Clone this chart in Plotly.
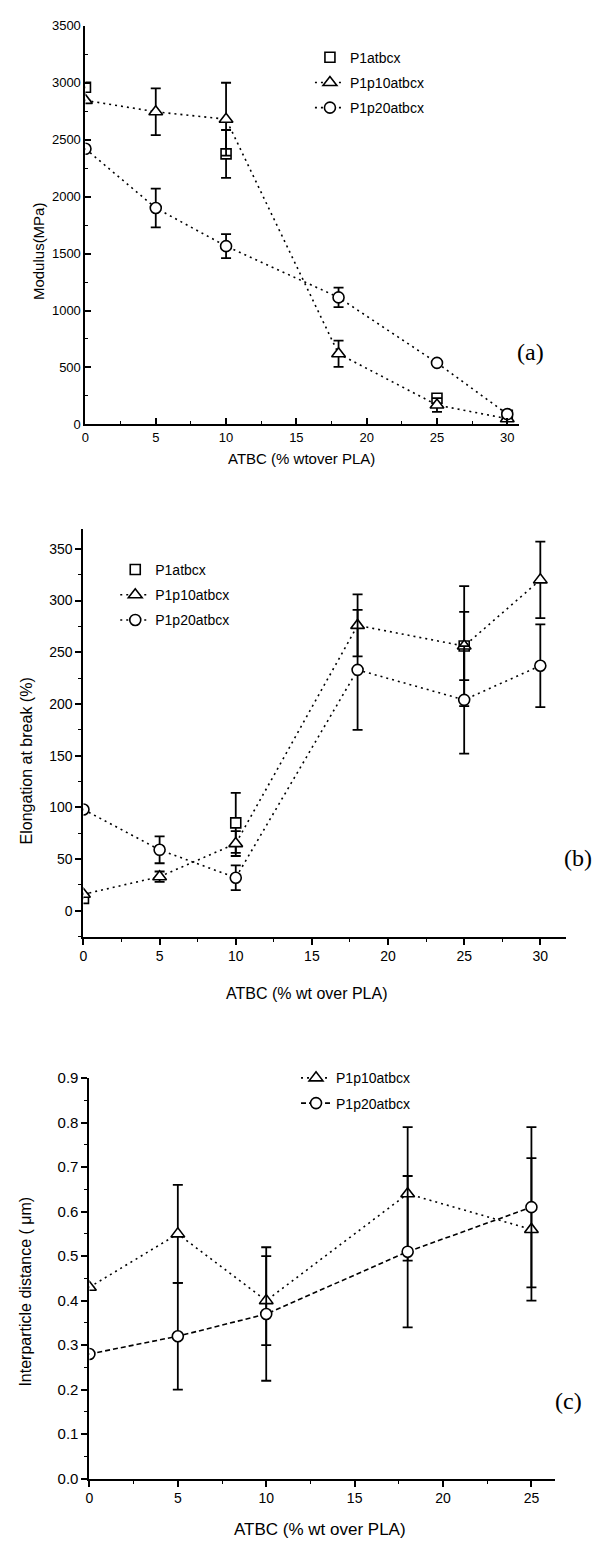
import plotly.graph_objects as go

W, H = 598, 1545

# ---------------- (a) tensile modulus ----------------
a_x_sq = [0, 10, 25, 30]
a_y_sq = [2960, 2375, 230, 80]
a_e_sq = [0, 210, 30, 0]
a_x = [0, 5, 10, 18, 25, 30]
a_y_p10 = [2845, 2745, 2680, 620, 170, 50]
a_e_p10 = [0, 205, 320, 115, 60, 0]
a_y_p20 = [2420, 1900, 1565, 1115, 540, 90]
a_e_p20 = [0, 170, 105, 85, 20, 0]

# ---------------- (b) elongation at break ----------------
b_x_sq = [0, 10, 25]
b_y_sq = [12, 85, 256]
b_e_sq = [0, 29, 58]
b_x = [0, 5, 10, 18, 25, 30]
b_y_p10 = [16, 33, 65, 276, 256, 320]
b_e_p10 = [0, 5, 12, 30, 33, 37]
b_y_p20 = [98, 59, 32, 233, 204, 237]
b_e_p20 = [0, 13, 12, 58, 52, 40]

# ---------------- (c) interparticle distance ----------------
c_x = [0, 5, 10, 18, 25]
c_y_p10 = [0.43, 0.55, 0.40, 0.64, 0.56]
c_e_p10 = [0, 0.11, 0.10, 0.15, 0.16]
c_y_p20 = [0.28, 0.32, 0.37, 0.51, 0.61]
c_e_p20 = [0, 0.12, 0.15, 0.17, 0.18]

names = ["P1atbcx", "P1p10atbcx", "P1p20atbcx"]

FONT = "Liberation Sans"
DOT = "2px,4px"
DASH = "5px,3px"


def px(x):
    return x / W


def py(y):
    return 1 - y / H


def err(values):
    return dict(type="data", array=values, visible=True, color="black",
                thickness=1.8, width=5)


def marker(symbol, size):
    return dict(symbol=symbol, size=size, color="white",
                line=dict(color="black", width=1.6))


fig = go.Figure()


def add(x, y, e, name, symbol, size, dash, xa, ya, legend, show_line=True):
    fig.add_trace(go.Scatter(
        x=x, y=y, name=name, error_y=err(e),
        mode="lines+markers" if show_line else "markers",
        line=dict(color="black", width=1.6, dash=dash),
        marker=marker(symbol, size),
        xaxis=xa, yaxis=ya, legend=legend, legendgroup=legend + name,
    ))


# (a)
add(a_x_sq, a_y_sq, a_e_sq, names[0], "square", 10, DOT, "x", "y", "legend", show_line=False)
add(a_x, a_y_p10, a_e_p10, names[1], "triangle-up", 12, DOT, "x", "y", "legend")
add(a_x, a_y_p20, a_e_p20, names[2], "circle", 11, DOT, "x", "y", "legend")
# (b)
add(b_x_sq, b_y_sq, b_e_sq, names[0], "square", 10, DOT, "x2", "y2", "legend2", show_line=False)
add(b_x, b_y_p10, b_e_p10, names[1], "triangle-up", 12, DOT, "x2", "y2", "legend2")
add(b_x, b_y_p20, b_e_p20, names[2], "circle", 11, DOT, "x2", "y2", "legend2")
# (c)
add(c_x, c_y_p10, c_e_p10, names[1], "triangle-up", 12, DOT, "x3", "y3", "legend3")
add(c_x, c_y_p20, c_e_p20, names[2], "circle", 11, DASH, "x3", "y3", "legend3")


def axis(domain, rng, dtick, minor_dtick, ticks, size, anchor, fmt=None):
    d = dict(
        domain=domain, range=rng, dtick=dtick, tick0=0, anchor=anchor,
        showline=True, linecolor="black", linewidth=2, mirror=False,
        showgrid=False, zeroline=False, ticks=ticks, ticklen=6,
        tickwidth=1.6, tickcolor="black",
        tickfont=dict(family=FONT, size=size, color="black"),
        minor=dict(dtick=minor_dtick, ticks=ticks, ticklen=3,
                   tickwidth=1.4, tickcolor="black", showgrid=False),
    )
    if fmt:
        d["tickformat"] = fmt
    return d


layout = dict(
    width=W, height=H, margin=dict(l=0, r=0, t=0, b=0),
    paper_bgcolor="white", plot_bgcolor="white", showlegend=True,
    xaxis=axis([px(82), px(518)], [0, 30.8], 5, 2.5, "inside", 13, "y"),
    yaxis=axis([py(420), py(17)], [0, 3500], 500, 250, "inside", 13, "x"),
    xaxis2=axis([px(80), px(566)], [0, 31.7], 5, 2.5, "outside", 14, "y2"),
    yaxis2=axis([py(938), py(526)], [-25, 369], 50, 25, "outside", 14, "x2"),
    xaxis3=axis([px(86), px(555)], [0, 26.35], 5, 2.5, "outside", 14, "y3"),
    yaxis3=axis([py(1486), py(1081)], [0, 0.9], 0.1, 0.05, "outside", 15, "x3", ".1f"),
)

legend_common = dict(bgcolor="rgba(0,0,0,0)", borderwidth=0,
                     traceorder="grouped", tracegroupgap=4,
                     xanchor="left", yanchor="top", itemwidth=30)
layout["legend"] = dict(x=px(308), y=py(33), font=dict(family=FONT, size=14, color="black"), **legend_common)
layout["legend2"] = dict(x=px(112), y=py(551), font=dict(family=FONT, size=14, color="black"), **legend_common)
layout["legend3"] = dict(x=px(294), y=py(1065), font=dict(family=FONT, size=14, color="black"), **legend_common)

fig.update_layout(**layout)

# axis titles and panel labels
texts = [
    ("ATBC (% wtover PLA)", 300, 455, 0, 15, FONT),
    ("Modulus(MPa)", 35, 245, -90, 15, FONT),
    ("ATBC (% wt over PLA)", 305, 995, 0, 16, FONT),
    ("Elongation at break (%)", 23, 760, -90, 16, FONT),
    ("ATBC (% wt over PLA)", 318, 1537, 0, 17, FONT),
    ("Interparticle distance ( μm)", 22, 1297, -90, 16, FONT),
    ("(a)", 530, 347, 0, 24, "Liberation Serif"),
    ("(b)", 578, 858, 0, 24, "Liberation Serif"),
    ("(c)", 568, 1407, 0, 24, "Liberation Serif"),
]
for t, x, y, ang, size, fam in texts:
    fig.add_annotation(text=t, x=px(x), y=py(y), xref="paper", yref="paper",
                       showarrow=False, textangle=ang, xanchor="center",
                       yanchor="middle", font=dict(family=fam, size=size, color="black"))

fig.write_html("out.html")
